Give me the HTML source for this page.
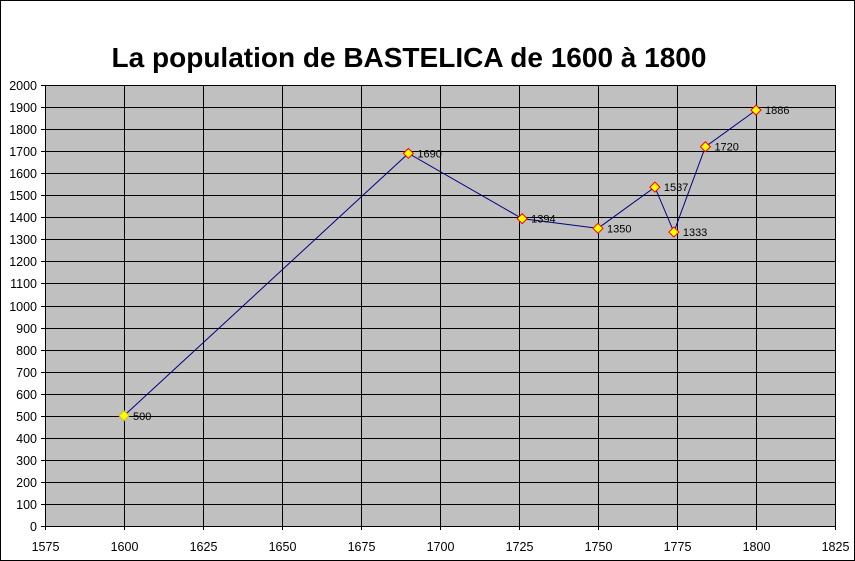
<!DOCTYPE html>
<html><head><meta charset="utf-8"><style>
html,body{margin:0;padding:0;background:#fff}
svg{display:block}
text{font-family:"Liberation Sans",Arial,sans-serif}
</style></head><body>
<svg width="855" height="561" xmlns="http://www.w3.org/2000/svg">
<rect x="0.5" y="0.5" width="854" height="560" fill="#fff" stroke="#000"/>
<text x="409" y="67" text-anchor="middle" font-size="28" font-weight="bold">La population de BASTELICA de 1600 à 1800</text>
<g id="plot"></g>
</svg>
<script>
const years=[1600,1690,1726,1750,1768,1774,1784,1800];
const pops=[500,1690,1394,1350,1537,1333,1720,1886];
const xTicks=[1575,1600,1625,1650,1675,1700,1725,1750,1775,1800,1825];
const yTicks=[0,100,200,300,400,500,600,700,800,900,1000,1100,1200,1300,1400,1500,1600,1700,1800,1900,2000];
const X0=45,X1=835,Y0=526,Y1=85;
const xs=v=>X0+(v-1575)/250*(X1-X0);
const ys=v=>Y0-v/2000*(Y0-Y1);
const NS="http://www.w3.org/2000/svg";
const g=document.getElementById('plot');
function mk(t,a){const e=document.createElementNS(NS,t);for(const k in a)e.setAttribute(k,a[k]);g.appendChild(e);return e;}
const bg=mk('rect',{x:X0,y:Y1,width:X1-X0,height:Y0-Y1,fill:'#c0c0c0'});


yTicks.forEach(v=>{const y=Math.round(ys(v))+0.5;
const l=mk('line',{x1:X0-4,x2:X1,y1:y,y2:y,stroke:'#000'});


const t=mk('text',{x:X0-8,y:y+4.5,'text-anchor':'end','font-size':12.5});t.textContent=v;

});
xTicks.forEach(v=>{const x=Math.round(xs(v))+0.5;
const l=mk('line',{x1:x,x2:x,y1:Y1,y2:Y0+4,stroke:'#000'});


const t=mk('text',{x:x,y:Y0+25,'text-anchor':'middle','font-size':12.5});t.textContent=v;

});
const pl=mk('polyline',{points:years.map((y,i)=>xs(y)+','+ys(pops[i])).join(' '),fill:'none',stroke:'#000080','stroke-width':1});


years.forEach((yr,i)=>{const x=xs(yr),y=ys(pops[i]);
const m=mk('polygon',{points:`${x},${y-5} ${x+5},${y} ${x},${y+5} ${x-5},${y}`,fill:'#ffff00',stroke:i==0?'#e0c000':'#ff0000','stroke-width':1});


const t=mk('text',{x:x+9,y:y+4,'font-size':11});t.textContent=pops[i];

});
</script>
</body></html>
